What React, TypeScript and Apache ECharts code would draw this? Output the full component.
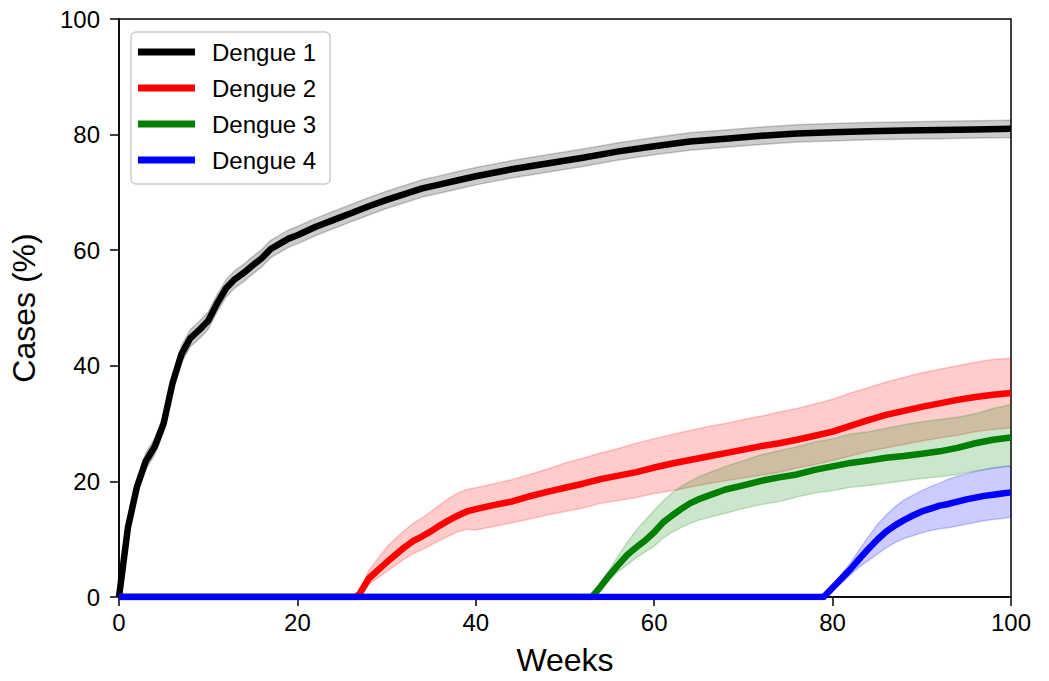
import React, { useEffect, useRef } from "react";
import * as echarts from "echarts";

// ---------- Data ----------
const seriesNames = ["Dengue 1", "Dengue 2", "Dengue 3", "Dengue 4"];
const xTicks = [0, 20, 40, 60, 80, 100];
const yTicks = [0, 20, 40, 60, 80, 100];

const weeks1 = [0, 1, 2, 3, 4, 5, 6, 7, 8, 9, 10, 11, 12, 13, 14, 15, 16, 17, 18, 19, 20,
  22, 24, 26, 28, 30, 32, 34, 36, 38, 40,
  44, 48, 52, 56, 60, 64, 68, 72, 76, 80, 84, 88, 92, 96, 100];
const mean1 = [0, 12, 19, 23.5, 26, 30, 37, 42, 44.8, 46.2, 47.8, 50.8, 53.4, 55, 56.1, 57.4, 58.6, 60.2, 61.1, 62, 62.6,
  64, 65.2, 66.4, 67.6, 68.7, 69.7, 70.7, 71.4, 72.1, 72.8,
  74, 75, 76, 77.1, 78, 78.8, 79.3, 79.8, 80.2, 80.4, 80.6, 80.7, 80.8, 80.9, 81];
const low1 = [0, 11, 17.8, 22.1, 24.6, 28.5, 35.5, 40.5, 43.3, 44.7, 46.3, 49.3, 51.9, 53.5, 54.6, 55.9, 57.1, 58.7, 59.6, 60.5, 61.1,
  62.5, 63.7, 64.9, 66.1, 67.2, 68.2, 69.2, 69.9, 70.6, 71.3,
  72.5, 73.5, 74.5, 75.6, 76.5, 77.3, 77.8, 78.3, 78.7, 78.9, 79.1, 79.2, 79.3, 79.4, 79.5];
const high1 = [0, 13, 20.2, 24.9, 27.4, 31.5, 38.5, 43.5, 46.3, 47.7, 49.3, 52.3, 54.9, 56.5, 57.6, 58.9, 60.1, 61.7, 62.6, 63.5, 64.1,
  65.5, 66.7, 67.9, 69.1, 70.2, 71.2, 72.2, 72.9, 73.6, 74.3,
  75.5, 76.5, 77.5, 78.6, 79.5, 80.3, 80.8, 81.3, 81.7, 81.9, 82.1, 82.2, 82.3, 82.4, 82.5];

const weeks2 = [0, 26.5, 27, 28, 29, 30, 31, 32, 33, 34, 35, 36, 37, 38, 39, 40, 42, 44, 46, 48, 50, 52, 54, 56, 58, 60,
  62, 64, 66, 68, 70, 72, 74, 76, 78, 80, 82, 84, 86, 88, 90, 92, 94, 96, 98, 100];
const mean2 = [0, 0, 0.6, 3.2, 4.6, 6.0, 7.3, 8.6, 9.7, 10.5, 11.4, 12.4, 13.3, 14.1, 14.8, 15.2, 15.9, 16.5, 17.4, 18.2, 18.9, 19.6, 20.4, 21.0, 21.6, 22.4,
  23.1, 23.7, 24.3, 24.9, 25.5, 26.1, 26.6, 27.2, 27.9, 28.6, 29.6, 30.6, 31.5, 32.2, 32.9, 33.5, 34.1, 34.6, 35.0, 35.3];
const low2 = [0, 0, 0.3, 2.2, 3.3, 4.4, 5.5, 6.6, 7.5, 8.2, 9.0, 9.8, 10.6, 11.3, 11.7, 11.6, 12.2, 12.8, 13.5, 14.2, 14.8, 15.4, 16.2, 16.7, 17.2, 17.9,
  18.4, 19.0, 19.6, 20.1, 20.6, 21.1, 21.6, 22.3, 22.9, 23.6, 24.4, 25.2, 25.8, 26.4, 27.0, 27.5, 28.0, 28.6, 29.0, 29.3];
const high2 = [0, 0, 0.9, 4.6, 6.6, 8.6, 10.1, 11.5, 12.8, 13.7, 14.8, 16.0, 17.1, 18.0, 18.6, 18.9, 19.6, 20.3, 21.2, 22.1, 23.2, 24.0, 24.9, 25.7, 26.6, 27.4,
  28.1, 28.8, 29.5, 30.0, 30.7, 31.3, 32.0, 32.6, 33.4, 34.2, 35.3, 36.2, 37.2, 38.0, 38.8, 39.4, 40.0, 40.6, 41.1, 41.3];

const weeks3 = [0, 53, 54, 55, 56, 57, 58, 59, 60, 61, 62, 63, 64, 65, 66, 68, 70, 72, 74, 76, 78, 80, 82, 84, 86, 88, 90, 92, 94, 96, 98, 100];
const mean3 = [0, 0, 1.8, 3.8, 5.6, 7.3, 8.6, 9.8, 11.2, 12.9, 14.1, 15.2, 16.2, 16.9, 17.5, 18.6, 19.3, 20.1, 20.7, 21.2, 22.0, 22.6, 23.2, 23.6, 24.1, 24.4, 24.8, 25.2, 25.8, 26.6, 27.2, 27.6];
const low3 = [0, 0, 1.2, 3.0, 4.4, 5.6, 6.8, 7.8, 8.8, 10.2, 11.2, 12.0, 12.7, 13.3, 13.7, 14.5, 15.3, 16.0, 16.5, 17.3, 18.0, 18.4, 19.0, 19.3, 19.7, 20.1, 20.5, 20.8, 21.2, 21.8, 22.3, 22.7];
const high3 = [0, 0, 2.4, 4.8, 7.2, 9.5, 11.6, 13.3, 15.0, 16.6, 18.0, 19.1, 20.0, 20.8, 21.4, 22.6, 23.6, 24.6, 25.3, 26.0, 26.8, 27.4, 28.2, 28.6, 29.2, 29.8, 30.3, 30.7, 31.1, 31.7, 32.6, 33.3];

const weeks4 = [0, 79, 80, 81, 82, 83, 84, 85, 86, 87, 88, 89, 90, 91, 92, 93, 94, 95, 96, 97, 98, 99, 100];
const mean4 = [0, 0, 1.6, 3.2, 4.8, 6.6, 8.3, 9.9, 11.3, 12.4, 13.3, 14.1, 14.8, 15.3, 15.8, 16.1, 16.5, 16.9, 17.2, 17.5, 17.7, 17.9, 18.1];
const low4 = [0, 0, 1.2, 2.4, 3.8, 5.2, 6.3, 7.4, 8.5, 9.4, 10.1, 10.6, 11.1, 11.5, 11.8, 12.0, 12.3, 12.6, 12.9, 13.2, 13.4, 13.6, 13.8];
const high4 = [0, 0, 2.0, 4.0, 5.9, 8.2, 10.4, 12.5, 14.2, 15.6, 16.8, 17.6, 18.4, 19.1, 19.7, 20.4, 20.9, 21.3, 21.7, 22.0, 22.3, 22.5, 22.7];

const lineColors = ["#000000", "#ff0000", "#008000", "#0000ff"];
const bandFills = ["rgba(0,0,0,0.2)", "rgba(255,0,0,0.2)", "rgba(0,128,0,0.2)", "rgba(0,0,255,0.2)"];

const FONT = "'Liberation Sans', Arial, sans-serif";

function bandSeries(name: string, weeks: number[], lo: number[], hi: number[], fill: string) {
  return {
    type: "custom",
    name,
    silent: true,
    z: 1,
    clip: true,
    data: weeks.map((w, i) => [w, lo[i], hi[i]]),
    encode: { x: 0, y: [1, 2] },
    renderItem: (params: any, api: any) => {
      if (params.dataIndexInside !== 0) return null;
      const n = params.dataInsideLength;
      const upper: number[][] = [];
      const lower: number[][] = [];
      for (let i = 0; i < n; i++) {
        const x = api.value(0, i);
        upper.push(api.coord([x, api.value(2, i)]));
        lower.push(api.coord([x, api.value(1, i)]));
      }
      const pts = upper.concat(lower.reverse());
      return {
        type: "polygon",
        shape: { points: pts },
        style: { fill, stroke: fill, lineWidth: 1.5 },
      };
    },
  };
}

function lineSeries(name: string, weeks: number[], mean: number[], color: string) {
  return {
    type: "line",
    name,
    z: 2,
    showSymbol: false,
    symbol: "none",
    clip: true,
    data: weeks.map((w, i) => [w, mean[i]]),
    lineStyle: { color, width: 6.5, cap: "butt", join: "round" },
    itemStyle: { color },
  };
}

export default function App() {
  const ref = useRef<HTMLDivElement>(null);
  useEffect(() => {
    if (!ref.current) return;
    const chart = echarts.init(ref.current, undefined, { renderer: "svg" });
    const option = {
      animation: false,
      backgroundColor: "#ffffff",
      grid: {
        left: 118, top: 19, right: 38, bottom: 81,
        show: true, borderColor: "#000", borderWidth: 1.5, backgroundColor: "transparent",
      },
      legend: {
        data: seriesNames,
        orient: "vertical",
        left: 131,
        top: 32,
        icon: "rect",
        itemWidth: 57,
        itemHeight: 7,
        itemGap: 12,
        padding: [8, 14, 12, 7],
        backgroundColor: "#ffffff",
        borderColor: "#cccccc",
        borderWidth: 1.5,
        borderRadius: 5,
        textStyle: { fontSize: 24, fontFamily: FONT, color: "#000", padding: [0, 0, 0, 12] },
      },
      xAxis: {
        type: "value",
        min: xTicks[0],
        max: xTicks[xTicks.length - 1],
        interval: 20,
        name: "Weeks",
        nameLocation: "middle",
        nameGap: 47,
        nameTextStyle: { fontSize: 32, fontFamily: FONT, color: "#000" },
        axisLine: { show: true, lineStyle: { color: "#000", width: 1.5 } },
        axisTick: { show: true, inside: false, length: 9, lineStyle: { color: "#000", width: 1.5 } },
        axisLabel: { fontSize: 24, fontFamily: FONT, color: "#000", margin: 13 },
        splitLine: { show: false },
      },
      yAxis: {
        type: "value",
        min: yTicks[0],
        max: yTicks[yTicks.length - 1],
        interval: 20,
        name: "Cases (%)",
        nameLocation: "middle",
        nameGap: 79,
        nameTextStyle: { fontSize: 32, fontFamily: FONT, color: "#000" },
        axisLine: { show: true, lineStyle: { color: "#000", width: 1.5 } },
        axisTick: { show: true, inside: false, length: 9, lineStyle: { color: "#000", width: 1.5 } },
        axisLabel: { fontSize: 24, fontFamily: FONT, color: "#000", margin: 19 },
        splitLine: { show: false },
      },
      series: [
        bandSeries("Dengue 1 band", weeks1, low1, high1, bandFills[0]),
        bandSeries("Dengue 2 band", weeks2, low2, high2, bandFills[1]),
        bandSeries("Dengue 3 band", weeks3, low3, high3, bandFills[2]),
        bandSeries("Dengue 4 band", weeks4, low4, high4, bandFills[3]),
        lineSeries(seriesNames[0], weeks1, mean1, lineColors[0]),
        lineSeries(seriesNames[1], weeks2, mean2, lineColors[1]),
        lineSeries(seriesNames[2], weeks3, mean3, lineColors[2]),
        lineSeries(seriesNames[3], weeks4, mean4, lineColors[3]),
      ],
    };
    chart.setOption(option as any);
    return () => chart.dispose();
  }, []);
  return (
    <div
      ref={ref}
      style={{ position: "fixed", left: 0, top: 0, width: 1049, height: 681, background: "#fff" }}
    />
  );
}
